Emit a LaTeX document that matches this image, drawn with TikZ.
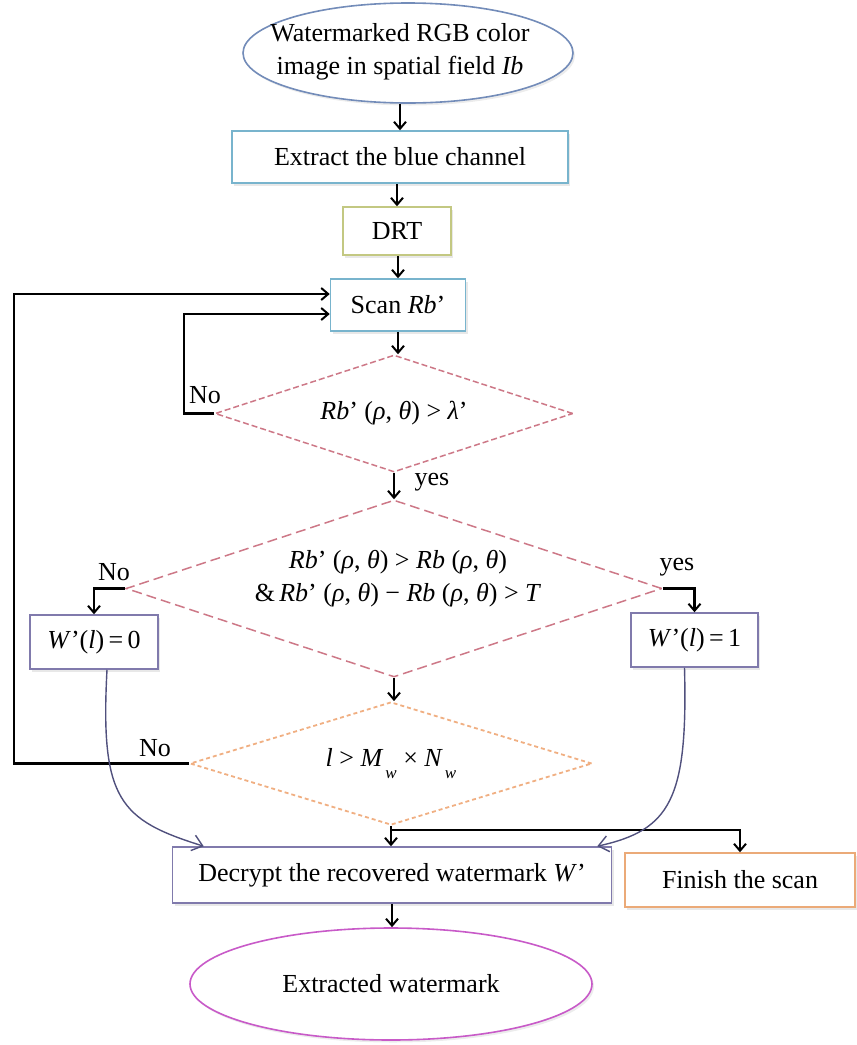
\documentclass[tikz,border=0pt]{standalone}
\usepackage{fontspec}
\setmainfont{Liberation Serif}
\usetikzlibrary{shapes.geometric,arrows.meta,calc,shadows}
\definecolor{eonec}{RGB}{115,140,185}
\definecolor{bluec}{RGB}{120,180,205}
\definecolor{olivec}{RGB}{195,200,130}
\definecolor{pinkc}{RGB}{205,120,135}
\definecolor{orangec}{RGB}{240,175,130}
\definecolor{purpc}{RGB}{128,122,172}
\definecolor{finc}{RGB}{235,170,120}
\definecolor{etwoc}{RGB}{200,90,200}
\definecolor{curvc}{RGB}{80,80,125}
\begin{document}
\begin{tikzpicture}[x=1pt,y=-1pt,
  every node/.style={font=\fontsize{26pt}{33pt}\selectfont, inner sep=0pt},
  box/.style={draw, rectangle, line width=1.5pt, fill=white,
    drop shadow={opacity=0.18, shadow xshift=2pt, shadow yshift=-2.5pt}},
  oval/.style={draw, ellipse, line width=1.6pt, fill=white,
    drop shadow={opacity=0.15, shadow xshift=2pt, shadow yshift=-2.5pt}},
  dia/.style={draw, diamond, shape aspect=3, line width=1.5pt},
  arr/.style={draw=black, line width=2.1pt,
    -{Straight Barb[length=7pt,width=12pt,line width=2pt]}},
  curv/.style={draw=curvc, line width=1.4pt,
    -{Straight Barb[length=10pt,width=16pt,line width=1.4pt]}}
]
\useasboundingbox (0,0) rectangle (857,1045);

% nodes
\node[oval, draw=eonec, minimum width=330pt, minimum height=100pt] (E1) at (408,53) {};
\node[align=center] (E1t) at (400,52) {Watermarked RGB color\\image in spatial field \textit{Ib}};
\node[box, draw=bluec, minimum width=336pt, minimum height=52pt] (Ext) at (400,157) {Extract the blue channel};
\node[box, draw=olivec, minimum width=108pt, minimum height=48pt] (DRT) at (397,231) {DRT};
\node[box, draw=bluec, minimum width=135pt, minimum height=52pt] (Scan) at (398,305) {Scan \textit{Rb}’};
\node[dia, draw=pinkc, dash pattern=on 6pt off 3pt, minimum width=358pt, minimum height=117pt] (D1) at (394,413.5)
  {\textit{Rb}’ (\textit{ρ}, \textit{θ}) > \textit{λ}’};
\node[dia, draw=pinkc, dash pattern=on 10pt off 5pt, minimum width=536pt, minimum height=177pt] (D2) at (394,588.5) {};
\node[align=center] (D2t) at (398,579) {\textit{Rb}’ (\textit{ρ}, \textit{θ}) > \textit{Rb} (\textit{ρ}, \textit{θ})\\
  \&\,\textit{Rb}’ (\textit{ρ}, \textit{θ}) − \textit{Rb} (\textit{ρ}, \textit{θ}) > \textit{T}};
\node[box, draw=purpc, minimum width=128pt, minimum height=54pt] (W0) at (94,642) {\textit{W}’(\textit{l})\,=\,0};
\node[box, draw=purpc, minimum width=127pt, minimum height=54pt] (W1) at (694.5,640) {\textit{W}’(\textit{l})\,=\,1};
\node[dia, draw=orangec, dash pattern=on 4pt off 3pt, line width=1.8pt, minimum width=402pt, minimum height=123pt] (D3) at (391,763.5)
  {\textit{l} > \textit{M}\kern2pt\raisebox{-0.45em}{\fontsize{17pt}{17pt}\selectfont\textit{w}} × \textit{N}\kern2pt\raisebox{-0.45em}{\fontsize{17pt}{17pt}\selectfont\textit{w}}};
\node[box, draw=purpc, minimum width=439pt, minimum height=56pt] (Dec) at (392,875) {Decrypt the recovered watermark \textit{W}’};
\node[box, draw=finc, minimum width=230pt, minimum height=54pt] (Fin) at (740,880) {Finish the scan};
\node[oval, draw=etwoc, minimum width=402pt, minimum height=112pt] (E2) at (391,984) {Extracted watermark};

% labels
\node (NoA) at (205,395) {No};
\node (YesA) at (432,482) {yes};
\node (NoB) at (114,572) {No};
\node (YesB) at (677,567) {yes};
\node (NoC) at (155,748) {No};

% helper coordinates
\coordinate (c1) at (184,314);
\coordinate (c2) at (14,294);
\coordinate (br) at ($(D3.south)+(0,4)$);

% main flow
\draw[arr] (Ext.north |- E1.south) -- (Ext.north);
\draw[arr] (Ext.south -| DRT.north) -- (DRT.north);
\draw[arr] (DRT.south -| Scan.north) -- (Scan.north);
\draw[arr] (Scan.south) -- (Scan.south |- D1.north);
\draw[arr] (D1.south) -- (D1.south |- D2.north);
\draw[arr] (D2.south) -- (D2.south |- D3.north);
\draw[arr] (D3.south) -- (D3.south |- Dec.north);
\draw[arr] (br) -| (Fin.north);
\draw[arr] (Dec.south) -- (Dec.south |- E2.north);

% loops
\draw[arr] (D1.west) -| (c1) -- (Scan.west |- c1);
\draw[arr] (D3.west) -| (c2) -- (Scan.west |- c2);

% decision branches
\draw[arr] (D2.west) -| (W0.north);
\draw[arr] (D2.east) -| (W1.north);

% curved connectors
\draw[curv] ($(W0.south)+(13,0)$) .. controls (100,800) and (120,820) .. ($(Dec.north west)+(32,0)$);
\draw[curv] ($(W1.south)+(-10,0)$) .. controls (688,800) and (670,830) .. ($(Dec.north east)+(-15,0)$);
\end{tikzpicture}
\end{document}
